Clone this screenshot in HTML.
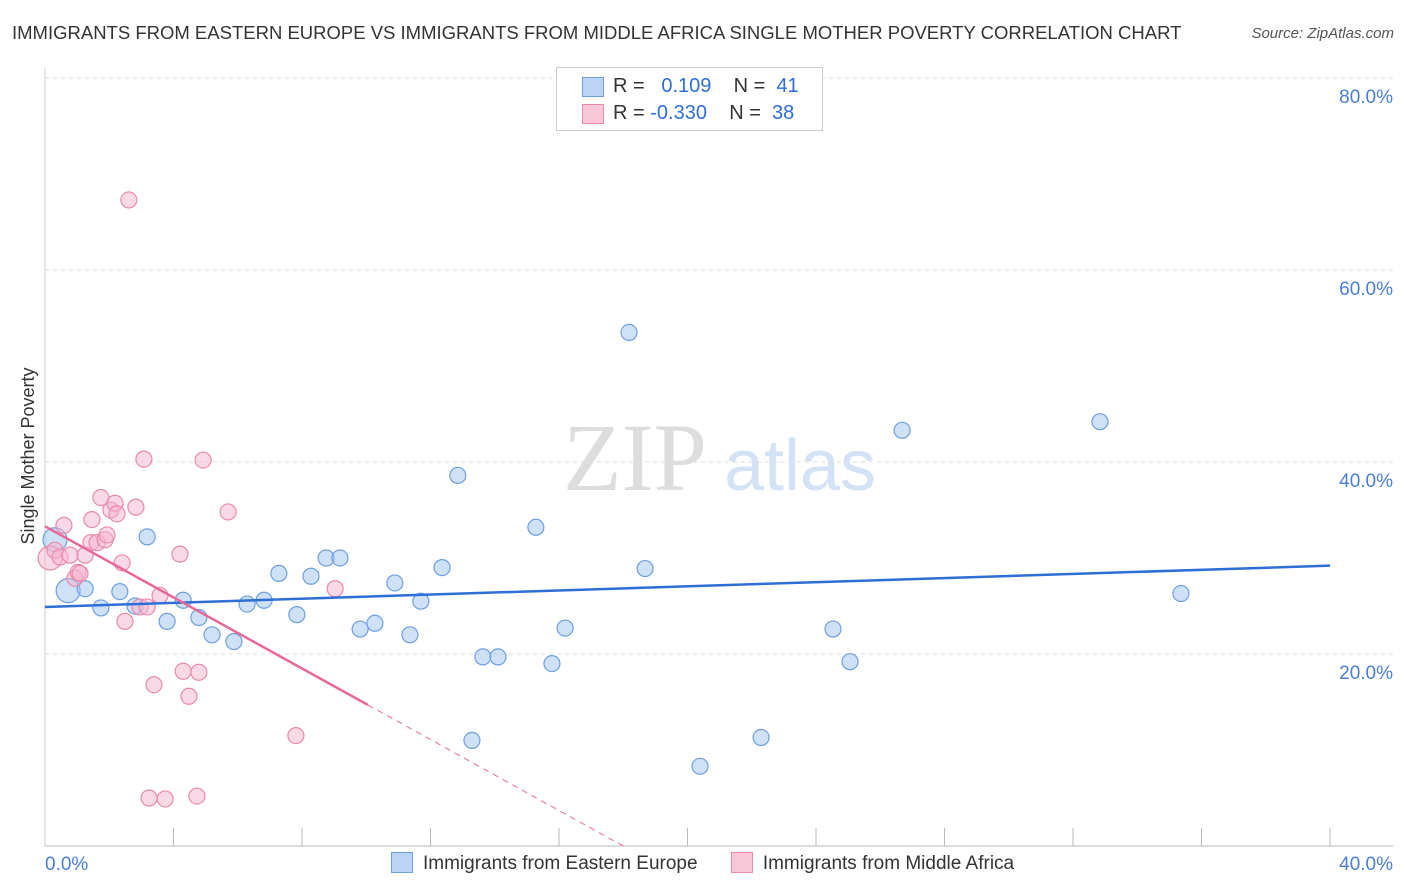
<!DOCTYPE html>
<html><head><meta charset="utf-8">
<style>
body{margin:0;background:#fff;font-family:"Liberation Sans",sans-serif;}
#wrap{position:relative;width:1406px;height:892px;overflow:hidden;}
.t{position:absolute;white-space:nowrap;}
</style></head>
<body>
<div id="wrap">
<div class="t" style="left:12px;top:22px;font-size:18.5px;color:#333;">IMMIGRANTS FROM EASTERN EUROPE VS IMMIGRANTS FROM MIDDLE AFRICA SINGLE MOTHER POVERTY CORRELATION CHART</div>
<div class="t" style="right:12px;top:25px;font-size:15px;color:#555;font-style:italic;">Source: ZipAtlas.com</div>
<svg id="svg" width="1406" height="892" style="position:absolute;left:0;top:0"></svg>
</div>
<script>
const xTicksPct=[0,40];
const yTicks=[20,40,60,80];
const blueX=[0.31,0.72,1.25,1.74,2.33,2.80,3.18,3.80,4.30,4.79,5.20,5.88,6.29,6.82,7.28,7.84,8.28,8.75,9.18,9.81,10.27,10.89,11.36,11.70,12.36,12.85,13.29,13.63,14.10,15.28,15.78,16.19,18.18,18.68,20.39,22.29,24.53,25.06,26.68,32.84,35.36];
const blueY=[31.9,26.6,26.8,24.8,26.5,25.0,32.2,23.4,25.6,23.8,22.0,21.3,25.2,25.6,28.4,24.1,28.1,30.0,30.0,22.6,23.2,27.4,22.0,25.5,29.0,38.6,11.0,19.7,19.7,33.2,19.0,22.7,53.5,28.9,8.3,11.3,22.6,19.2,43.3,44.2,26.3];
const pinkX=[0.16,0.31,0.47,0.59,0.78,0.93,1.03,1.09,1.25,1.43,1.46,1.62,1.74,1.87,1.93,2.05,2.18,2.24,2.40,2.49,2.61,2.83,2.96,3.08,3.18,3.24,3.39,3.58,3.74,4.20,4.30,4.48,4.73,4.79,4.92,5.70,7.81,9.03];
const pinkY=[30.0,30.8,30.1,33.4,30.3,27.9,28.5,28.4,30.3,31.6,34.0,31.6,36.3,31.9,32.4,35.0,35.7,34.6,29.5,23.4,67.3,35.3,24.9,40.3,24.9,5.0,16.8,26.1,4.9,30.4,18.2,15.6,5.2,18.1,40.2,34.8,11.5,26.8];
const blueTrendX=[0,40], blueTrendY=[24.9,29.2];
const pinkTrendX=[0,10.05,18.0], pinkTrendY=[33.3,14.7,0];

const X=v=>45+v/40*1285, Y=v=>846-v/80*768;
const NS='http://www.w3.org/2000/svg', svg=document.getElementById('svg');
function mk(tag,a){const e=document.createElementNS(NS,tag);for(const k in a)e.setAttribute(k,a[k]);svg.appendChild(e);return e;}
// grid
yTicks.forEach(v=>{
 const l=mk('line',{x1:45,x2:1393,y1:Y(v),y2:Y(v),stroke:'#ddd','stroke-dasharray':'4,4'});
 
 
 const t=mk('text',{x:1393,y:Y(v)+25,'text-anchor':'end','font-size':19,fill:'#4a7fd4','font-family':'Liberation Sans, sans-serif'});
 t.textContent=v.toFixed(1)+'%';
 
 
});
const ax=mk('line',{x1:45,x2:1393,y1:846,y2:846,stroke:'#bbb'});


const ay=mk('line',{x1:45,x2:45,y1:68,y2:846,stroke:'#ccc'});


for(let i=1;i<=10;i++){const tk=mk('line',{x1:X(i*4),x2:X(i*4),y1:828,y2:846,stroke:'#bbb'});
 
 }
xTicksPct.forEach((v,i)=>{const t=mk('text',{x:i?1393:45,y:870,'text-anchor':i?'end':'start','font-size':19,fill:'#4a7fd4','font-family':'Liberation Sans, sans-serif'});
 t.textContent=v.toFixed(1)+'%';
 
 });
const yt=mk('text',{x:34,y:456,'text-anchor':'middle','font-size':18,fill:'#333',transform:'rotate(-90 34 456)','font-family':'Liberation Sans, sans-serif'});
yt.textContent='Single Mother Poverty';


// watermark
const w1=mk('text',{x:635,y:490,'text-anchor':'middle','font-size':96,fill:'#ddd','font-family':'Liberation Serif, serif'});
w1.textContent='ZIP';


const w2=mk('text',{x:800,y:490,'text-anchor':'middle','font-size':72,fill:'#d4e2f5','font-family':'Liberation Sans, sans-serif'});
w2.textContent='atlas';


// points
blueX.forEach((x,i)=>{const c=mk('circle',{cx:X(x),cy:Y(blueY[i]),r:i<2?12:8,fill:'rgba(160,195,240,0.5)',stroke:'#6d9fe0','stroke-width':1.2});
 
 });
pinkX.forEach((x,i)=>{const c=mk('circle',{cx:X(x),cy:Y(pinkY[i]),r:i<1?12:8,fill:'rgba(245,180,205,0.5)',stroke:'#e88aab','stroke-width':1.2});
 
 });
// trends
const bt=mk('line',{x1:X(blueTrendX[0]),y1:Y(blueTrendY[0]),x2:X(blueTrendX[1]),y2:Y(blueTrendY[1]),stroke:'#2d6fd6','stroke-width':2.5});


const pt=mk('line',{x1:X(pinkTrendX[0]),y1:Y(pinkTrendY[0]),x2:X(pinkTrendX[1]),y2:Y(pinkTrendY[1]),stroke:'#e8689a','stroke-width':2.5});


const pd=mk('line',{x1:X(pinkTrendX[1]),y1:Y(pinkTrendY[1]),x2:X(pinkTrendX[2]),y2:Y(pinkTrendY[2]),stroke:'#e8689a','stroke-width':1,'stroke-dasharray':'6,5'});


</script>
<div class="t" style="left:556px;top:67px;width:265px;height:62px;border:1px solid #ccc;background:#fff;font-size:20px;color:#333;">
 <div style="position:absolute;left:25px;top:9px;width:20px;height:18px;background:#bcd4f4;border:1px solid #6d9fe0;"></div>
 <div style="position:absolute;left:56px;top:7px;">R = &nbsp;<span style="color:#2d6fd6">&nbsp;0.109</span>&nbsp;&nbsp;&nbsp; N = &nbsp;<span style="color:#2d6fd6">41</span></div>
 <div style="position:absolute;left:25px;top:36px;width:20px;height:18px;background:#f8c8d8;border:1px solid #e88aab;"></div>
 <div style="position:absolute;left:56px;top:34px;">R = <span style="color:#2d6fd6">-0.330</span>&nbsp;&nbsp;&nbsp; N = &nbsp;<span style="color:#2d6fd6">38</span></div>
</div>
<div class="t" style="left:391px;top:852px;font-size:19px;color:#333;">
 <span><span style="display:inline-block;width:20px;height:19px;background:#bcd4f4;border:1px solid #6d9fe0;vertical-align:-4px;margin-right:10px;"></span>Immigrants from Eastern Europe</span>
 <span style="margin-left:28px;"><span style="display:inline-block;width:20px;height:19px;background:#f8c8d8;border:1px solid #e88aab;vertical-align:-4px;margin-right:10px;"></span>Immigrants from Middle Africa</span>
</div>
</body></html>
